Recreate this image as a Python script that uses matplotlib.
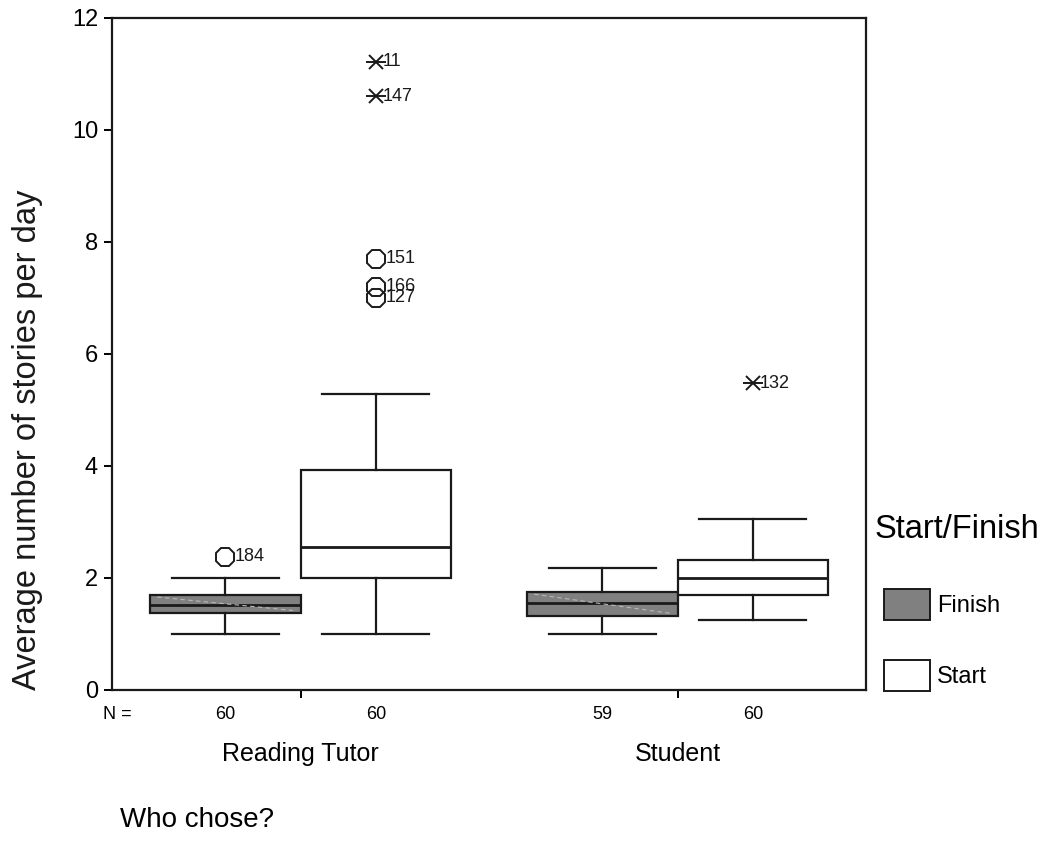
import matplotlib
matplotlib.use("Agg")
import matplotlib.pyplot as plt
from matplotlib.patches import Patch

plt.rcParams['font.family'] = ['Liberation Sans', 'DejaVu Sans']

# box statistics
groups = ["Reading Tutor", "Student"]
series = ["Finish", "Start"]
whislo = [1.0, 1.0, 1.0, 1.25]
q1 = [1.38, 2.0, 1.33, 1.70]
med = [1.52, 2.55, 1.55, 2.0]
q3 = [1.70, 3.93, 1.75, 2.33]
whishi = [2.0, 5.28, 2.17, 3.05]
counts = [60, 60, 59, 60]

# outliers (circles) and extremes (stars): box index, value, case label
out_box = [0, 1, 1, 1]
out_val = [2.38, 7.70, 7.20, 7.00]
out_lab = ["184", "151", "166", "127"]
ext_box = [1, 1, 3]
ext_val = [11.22, 10.60, 5.48]
ext_lab = ["11", "147", "132"]

positions = [0.75, 1.75, 3.25, 4.25]
colors = ["#808080", "white", "#808080", "white"]
ink = "#1a1a1a"

fig = plt.figure(figsize=(10.45, 8.48), dpi=100)
ax = fig.add_axes([112/1045, 1-690/848, (866-112)/1045, (690-18)/848])

stats = []
for i in range(4):
    stats.append(dict(whislo=whislo[i], q1=q1[i], med=med[i], q3=q3[i],
                      whishi=whishi[i], fliers=[]))

bp = ax.bxp(stats, positions=positions, widths=1.0, capwidths=0.71,
            patch_artist=True, showfliers=False,
            boxprops=dict(linewidth=1.6, edgecolor=ink),
            whiskerprops=dict(linewidth=1.6, color=ink),
            capprops=dict(linewidth=1.6, color=ink),
            medianprops=dict(linewidth=2.0, color=ink))
for patch, c in zip(bp["boxes"], colors):
    patch.set_facecolor(c)

# faint diagonal streak seen inside the grey boxes
for i in [0, 2]:
    ax.plot([positions[i] - 0.45, positions[i] + 0.45],
            [q3[i] - 0.04, q1[i] + 0.04],
            color="#b8b8b8", lw=0.8, ls=(0, (4, 3)), zorder=2.5)

for b, v, lab in zip(out_box, out_val, out_lab):
    x = positions[b]
    ax.plot(x, v, marker="8", ms=14, mfc="none", mec=ink, mew=1.4)
    ax.text(x + 0.065, v, lab, fontsize=13, va="center", ha="left", color=ink)

for b, v, lab in zip(ext_box, ext_val, ext_lab):
    x = positions[b]
    ax.plot(x, v, marker="x", ms=10, mec=ink, mew=1.4)
    ax.plot(x, v, marker="_", ms=15, mec=ink, mew=1.4)
    ax.text(x + 0.045, v, lab, fontsize=13, va="center", ha="left", color=ink)

ax.set_xlim(0, 5)
ax.set_ylim(0, 12)
ax.set_yticks(range(0, 13, 2))
ax.set_xticks([1.25, 3.75])
ax.set_xticklabels([])
ax.tick_params(axis="y", direction="out", length=6, width=1.4, labelsize=17, pad=4)
ax.tick_params(axis="x", direction="out", length=6, width=1.4)
for s in ax.spines.values():
    s.set_linewidth(1.6)
    s.set_color(ink)

ax.set_ylabel("Average number of stories per day", fontsize=23.5, color=ink)
ax.yaxis.set_label_coords(-0.092, 0.372)

tr = ax.get_xaxis_transform()
ax.text(-0.061, -0.037, "N =", transform=tr, fontsize=13, ha="left", va="center")
for p, n in zip(positions, counts):
    ax.text(p, -0.037, str(n), transform=tr, fontsize=13, ha="center", va="center")
for g, x in zip(groups, [1.25, 3.75]):
    ax.text(x, -0.095, g, transform=tr, fontsize=18, ha="center", va="center")

fig.text(120/1045, 1-820/848, "Who chose?", fontsize=20, ha="left", va="center")

# legend
fig.text(875/1045, 1-529/848, "Start/Finish", fontsize=23.5, ha="left", va="center")
handles = [Patch(facecolor=colors[0], edgecolor=ink, linewidth=1.4, label=series[0]),
           Patch(facecolor=colors[1], edgecolor=ink, linewidth=1.4, label=series[1])]
leg = fig.legend(handles=handles, loc="upper left",
                 bbox_to_anchor=(884/1045, 1-589/848), frameon=False,
                 fontsize=17, handlelength=1.95, handleheight=1.64,
                 handletextpad=0.3, labelspacing=1.7,
                 borderpad=0, borderaxespad=0)

fig.savefig("out.png", dpi=100)
